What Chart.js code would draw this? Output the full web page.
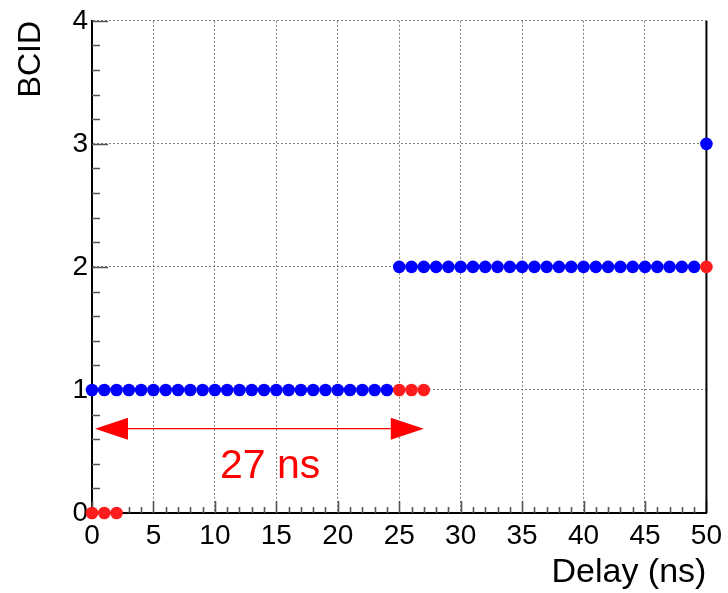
<!DOCTYPE html>
<html>
<head>
<meta charset="utf-8">
<script src="https://cdn.jsdelivr.net/npm/chart.js@4/dist/chart.umd.min.js"></script>
<style>
  html, body { margin: 0; padding: 0; background: #fff; }
  #wrap { width: 728px; height: 593px; }
</style>
</head>
<body>
<div id="wrap"><canvas id="bcid"></canvas></div>
<script>
// BCID vs delay scan
const blueDelay = [0,1,2,3,4,5,6,7,8,9,10,11,12,13,14,15,16,17,18,19,20,21,22,23,24,
                   25,26,27,28,29,30,31,32,33,34,35,36,37,38,39,40,41,42,43,44,45,46,47,48,49,50];
const blueBcid  = [1,1,1,1,1,1,1,1,1,1,1,1,1,1,1,1,1,1,1,1,1,1,1,1,1,
                   2,2,2,2,2,2,2,2,2,2,2,2,2,2,2,2,2,2,2,2,2,2,2,2,2,3];
const redDelay = [0, 1, 2, 25, 26, 27, 50];
const redBcid  = [0, 0, 0, 1, 1, 1, 2];

const xTicks = [0, 5, 10, 15, 20, 25, 30, 35, 40, 45, 50];
const yTicks = [0, 1, 2, 3, 4];

// arrow marking the 27 ns window
const arrowFrom = 0;
const arrowTo = 27;
const arrowBcid = 0.685;
const arrowText = '27 ns';

const FONT = '"Liberation Sans", Arial, Helvetica, sans-serif';

function pts(xs, ys){
  return xs.map((x, i) => ({ x, y: ys[i] }));
}

// inner tick marks, the right frame, the BCID label and the arrow
const frameAndMarks = {
  id: 'frameAndMarks',
  beforeDatasetsDraw(chart){
    const { ctx, chartArea: a, scales: { x, y } } = chart;
    ctx.save();
    ctx.strokeStyle = '#555';
    ctx.lineWidth = 1.6;
    ctx.beginPath();
    for(let v = 0; v <= 50; v++){
      const px = Math.round(x.getPixelForValue(v)) + 0.5;
      const len = v % 5 === 0 ? 12 : 6;
      ctx.moveTo(px, a.bottom); ctx.lineTo(px, a.bottom - len);
    }
    for(let k = 0; k <= 20; k++){
      const py = Math.round(y.getPixelForValue(k / 5)) + 0.5;
      const len = k % 5 === 0 ? 16 : 8;
      ctx.moveTo(a.left, py); ctx.lineTo(a.left + len, py);
    }
    ctx.stroke();
    ctx.strokeStyle = '#000';
    ctx.lineWidth = 2;
    ctx.beginPath();
    ctx.moveTo(a.right, a.top); ctx.lineTo(a.right, a.bottom);
    ctx.stroke();

    ctx.fillStyle = '#000';
    ctx.font = `32px ${FONT}`;
    ctx.translate(31, 21);
    ctx.rotate(-Math.PI / 2);
    ctx.textAlign = 'right';
    ctx.textBaseline = 'middle';
    ctx.fillText('BCID', 0, 0);
    ctx.restore();
  },
  afterDatasetsDraw(chart){
    const { ctx, scales: { x, y } } = chart;
    const x0 = x.getPixelForValue(arrowFrom) + 3;
    const x1 = x.getPixelForValue(arrowTo);
    const py = y.getPixelForValue(arrowBcid);
    const head = 33, half = 11;
    ctx.save();
    ctx.strokeStyle = '#ff0000';
    ctx.fillStyle = '#ff0000';
    ctx.lineWidth = 1.2;
    ctx.beginPath();
    ctx.moveTo(x0 + head, py); ctx.lineTo(x1 - head, py);
    ctx.stroke();
    ctx.beginPath();
    ctx.moveTo(x0, py); ctx.lineTo(x0 + head, py - half); ctx.lineTo(x0 + head, py + half); ctx.closePath();
    ctx.moveTo(x1, py); ctx.lineTo(x1 - head, py - half); ctx.lineTo(x1 - head, py + half); ctx.closePath();
    ctx.fill();
    ctx.font = `41px ${FONT}`;
    ctx.textAlign = 'center';
    ctx.textBaseline = 'middle';
    ctx.fillText(arrowText, x.getPixelForValue(14.5), y.getPixelForValue(0.375));
    ctx.restore();
  }
};

new Chart(document.getElementById('bcid'), {
  type: 'scatter',
  data: {
    datasets: [
      {
        label: 'late',
        data: pts(redDelay, redBcid),
        pointRadius: 6.3,
        pointHoverRadius: 6.3,
        pointBorderWidth: 0,
        backgroundColor: '#ff1c1c',
        borderColor: '#ff1c1c',
        clip: false
      },
      {
        label: 'BCID',
        data: pts(blueDelay, blueBcid),
        pointRadius: 6.3,
        pointHoverRadius: 6.3,
        pointBorderWidth: 0,
        backgroundColor: '#0000ff',
        borderColor: '#0000ff',
        clip: false
      }
    ]
  },
  options: {
    responsive: true,
    maintainAspectRatio: false,
    animation: false,
    layout: { padding: { top: 17, right: 20, left: 0, bottom: 0 } },
    plugins: { legend: { display: false }, tooltip: { enabled: false } },
    scales: {
      x: {
        type: 'linear',
        min: 0, max: 50,
        afterBuildTicks: s => { s.ticks = xTicks.map(v => ({ value: v })); },
        afterFit: s => { s.height = 80; },
        ticks: { color: '#000', padding: 6, font: { family: FONT, size: 28 } },
        grid: { color: '#808080', lineWidth: 1, drawTicks: false },
        border: { display: true, color: '#000', width: 2, dash: [2, 2] },
        title: {
          display: true, text: 'Delay (ns)', align: 'end', color: '#000',
          font: { family: FONT, size: 34 }, padding: { top: 0, bottom: 0 }
        }
      },
      y: {
        type: 'linear',
        min: 0, max: 4,
        afterBuildTicks: s => { s.ticks = yTicks.map(v => ({ value: v })); },
        afterFit: s => { s.width = 92; },
        ticks: { color: '#000', padding: 4, font: { family: FONT, size: 28 } },
        grid: { color: '#808080', lineWidth: 1, drawTicks: false },
        border: { display: true, color: '#000', width: 2, dash: [2, 2] }
      }
    }
  },
  plugins: [frameAndMarks]
});
</script>
</body>
</html>
